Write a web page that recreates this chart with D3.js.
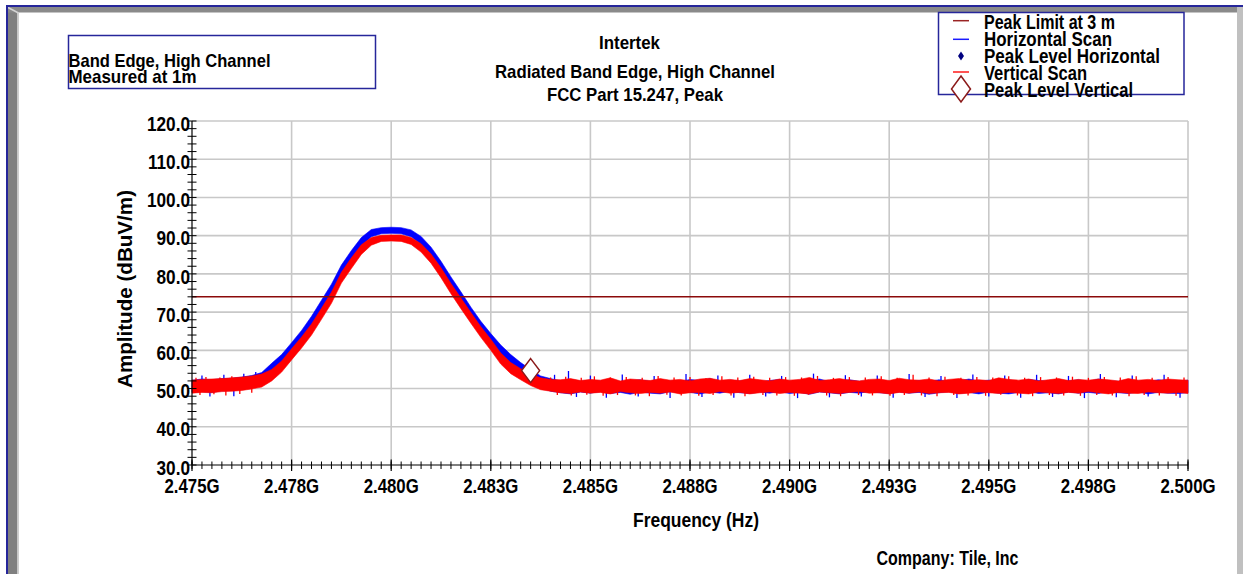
<!DOCTYPE html>
<html>
<head>
<meta charset="utf-8">
<script src="https://cdn.jsdelivr.net/npm/d3@7"></script>
<style>
  html, body { margin: 0; padding: 0; background: #fff; }
  svg { display: block; }
  text { font-family: "Liberation Sans", Arial, sans-serif; font-weight: bold; fill: #000; }
</style>
</head>
<body>
<svg id="chart" width="1243" height="574"></svg>
<script>
// ---- Axis definitions (frequency in MHz, amplitude in dBuV/m) ----
const freqMajorTicks = [2475, 2477.5, 2480, 2482.5, 2485, 2487.5, 2490, 2492.5, 2495, 2497.5, 2500];
const freqMajorLabels = ["2.475G", "2.478G", "2.480G", "2.483G", "2.485G", "2.488G",
                         "2.490G", "2.493G", "2.495G", "2.498G", "2.500G"];
const ampTicks = [30, 40, 50, 60, 70, 80, 90, 100, 110, 120];

// ---- Limit and peak marker ----
const peakLimitLevel = 74.0;
const peakVerticalFreq = 2483.5;
const peakVerticalLevel = 54.7;

// ---- Sweep: start / step in MHz, traces stored as min / max envelope per bin ----
const sweepStartMHz = 2475;
const sweepStepMHz = 0.25;

const horizontalLow = [
  49.0, 49.2, 49.0, 49.4, 49.5, 49.8, 50.3, 51.0,
  53.6, 56.1, 59.3, 62.5, 66.2, 70.4, 74.6, 79.7,
  83.6, 87.2, 89.7, 90.5, 90.6, 90.5, 89.7, 87.7,
  84.6, 80.8, 76.6, 72.7, 68.7, 65.0, 61.7, 58.7,
  56.1, 53.9, 52.0, 50.2, 49.3,
  48.9, 48.6, 49.1, 48.8, 49.2, 48.7, 49.0, 48.5,
  49.1, 48.8, 48.6, 49.2, 48.9, 49.0, 48.6, 49.1,
  48.8, 49.3, 48.9, 48.7, 49.1, 48.8, 49.2, 48.7,
  49.0, 48.5, 49.1, 48.9, 48.6, 49.0, 48.8, 49.2,
  48.9, 48.7, 49.1, 48.8, 49.0, 48.5, 48.9, 49.2,
  48.7, 49.0, 48.6, 49.1, 48.8, 48.6, 49.0, 49.2,
  48.7, 48.9, 48.6, 49.1, 48.8, 49.0, 48.7, 49.2,
  48.9, 48.7, 49.1, 48.6, 49.0, 48.8, 48.7, 48.9
];
const horizontalHigh = [
  52.2, 52.5, 52.3, 52.6, 52.7, 53.0, 53.4, 54.2,
  56.6, 58.9, 62.0, 65.2, 68.9, 73.1, 77.3, 82.3,
  86.1, 89.5, 91.6, 92.1, 92.2, 92.1, 91.5, 89.8,
  87.0, 83.3, 79.2, 75.3, 71.3, 67.6, 64.4, 61.4,
  58.9, 56.8, 55.0, 53.3, 52.6,
  52.0, 52.4, 51.9, 52.2, 52.0, 52.5, 51.8, 52.1,
  52.3, 51.9, 52.2, 52.0, 51.8, 52.4, 52.1, 52.6,
  51.9, 52.2, 52.0, 52.3, 51.8, 52.1, 52.4, 51.9,
  52.2, 52.0, 52.5, 51.8, 52.1, 52.3, 51.9, 52.0,
  52.2, 51.8, 52.4, 52.0, 52.1, 51.9, 52.3, 51.8,
  52.0, 52.5, 51.9, 52.2, 52.0, 52.3, 51.8, 52.4,
  52.1, 51.9, 52.2, 52.0, 52.3, 51.8, 52.5, 52.0,
  51.9, 52.2, 52.0, 51.8, 52.3, 52.1, 51.9, 52.2
];
const verticalLow = [
  48.8, 49.0, 48.9, 49.2, 49.3, 49.5, 49.9, 50.4,
  52.0, 54.3, 57.5, 60.6, 64.0, 68.1, 72.3, 77.6,
  81.4, 85.1, 87.5, 88.5, 88.6, 88.5, 87.7, 85.7,
  82.8, 79.0, 74.8, 70.9, 67.1, 63.4, 60.0, 56.4,
  53.9, 52.3, 50.8, 49.7, 49.3,
  48.9, 48.7, 49.1, 48.8, 49.0, 48.6, 49.2, 48.9,
  48.7, 49.0, 48.8, 49.1, 48.6, 48.9, 49.0, 48.7,
  49.2, 48.8, 49.0, 48.6, 48.9, 49.1, 48.7, 49.0,
  48.8, 48.6, 49.1, 48.9, 48.7, 49.0, 49.2, 48.8,
  48.9, 48.6, 49.0, 48.8, 49.1, 48.7, 48.9, 49.0,
  48.6, 48.8, 49.1, 48.9, 48.7, 49.0, 48.8, 48.6,
  49.1, 48.9, 48.7, 49.0, 48.8, 49.2, 48.9, 48.6,
  49.0, 48.8, 48.7, 49.1, 48.9, 48.8, 49.0, 48.7
];
const verticalHigh = [
  52.2, 52.4, 52.5, 52.6, 52.8, 53.0, 53.3, 53.8,
  55.0, 57.2, 60.4, 63.5, 66.9, 71.0, 75.2, 80.4,
  84.2, 87.6, 89.5, 90.1, 90.2, 90.2, 89.5, 87.9,
  85.2, 81.6, 77.5, 73.7, 69.9, 66.2, 62.9, 59.3,
  56.8, 55.2, 53.8, 52.8, 52.4,
  52.3, 52.6, 52.1, 52.4, 52.2, 52.8, 52.0, 52.5,
  52.3, 52.1, 52.6, 52.2, 52.4, 52.0, 52.5, 52.7,
  52.2, 52.4, 52.1, 52.6, 52.3, 52.0, 52.5, 52.2,
  52.4, 52.9, 52.1, 52.3, 52.6, 52.2, 52.0, 52.4,
  52.5, 52.1, 52.7, 52.3, 52.2, 52.5, 52.0, 52.4,
  52.6, 52.2, 52.3, 52.1, 52.8, 52.4, 52.2, 52.5,
  52.0, 52.3, 52.6, 52.1, 52.4, 52.2, 52.5, 52.3,
  52.0, 52.6, 52.2, 52.4, 52.1, 52.5, 52.3, 52.2
];

// Isolated noise excursions on the noise floor (MHz, dBuV/m)
const horizontalSpikeFreqs = [
  2475.25, 2475.45, 2475.8, 2476.05, 2476.3, 2476.6,
  2484.1, 2484.45, 2484.65, 2485.0, 2485.4, 2485.8, 2486.2, 2486.6, 2487.0, 2487.4,
  2487.8, 2488.2, 2488.6, 2489.0, 2489.4, 2489.8, 2490.2, 2490.6, 2491.0, 2491.4,
  2491.8, 2492.2, 2492.6, 2493.0, 2493.4, 2493.8, 2494.2, 2494.6, 2495.0, 2495.4,
  2495.8, 2496.2, 2496.6, 2497.0, 2497.4, 2497.8, 2498.2, 2498.6, 2499.0, 2499.4, 2499.8
];
const horizontalSpikeLevels = [
  53.4, 47.9, 53.6, 48.0, 53.9, 54.3,
  53.6, 54.6, 47.8, 53.4, 47.6, 53.7, 47.9, 53.3, 47.5, 53.8,
  47.8, 53.4, 47.6, 53.6, 47.9, 53.3, 47.5, 53.9, 47.7, 53.5,
  47.9, 53.4, 47.6, 53.8, 47.8, 53.3, 47.5, 53.7, 47.9, 53.4,
  47.6, 53.6, 47.8, 53.3, 47.5, 53.8, 47.7, 53.4, 47.9, 53.6, 47.6
];
const verticalSpikeFreqs = [
  2475.1, 2475.2, 2475.35, 2475.55, 2475.7, 2475.85, 2476.0, 2476.2, 2476.35, 2476.5, 2476.65,
  2484.0, 2484.17, 2484.38, 2484.52, 2484.77, 2484.91, 2485.1, 2485.32, 2485.5, 2485.68,
  2485.9, 2486.13, 2486.3, 2486.48, 2486.7, 2486.92, 2487.1, 2487.28, 2487.5, 2487.72,
  2487.9, 2488.08, 2488.3, 2488.53, 2488.7, 2488.88, 2489.1, 2489.33, 2489.5, 2489.68,
  2489.9, 2490.12, 2490.3, 2490.47, 2490.7, 2490.93, 2491.1, 2491.28, 2491.5, 2491.73,
  2491.9, 2492.08, 2492.3, 2492.52, 2492.7, 2492.88, 2493.1, 2493.31, 2493.5, 2493.7,
  2493.9, 2494.12, 2494.3, 2494.48, 2494.7, 2494.92, 2495.1, 2495.3, 2495.5, 2495.72,
  2495.9, 2496.1, 2496.3, 2496.52, 2496.7, 2496.88, 2497.1, 2497.3, 2497.5, 2497.71,
  2497.9, 2498.1, 2498.3, 2498.52, 2498.7, 2498.9, 2499.1, 2499.28, 2499.5, 2499.7, 2499.9
];
const verticalSpikeLevels = [
  52.8, 48.3, 53.0, 48.5, 52.9, 48.2, 53.2, 48.6, 53.1, 48.9, 53.5,
  52.9, 48.3, 53.1, 48.2, 52.8, 48.4, 53.2, 48.1, 52.9, 48.3,
  53.0, 48.2, 52.8, 48.0, 53.3, 48.4, 52.9, 48.2, 53.0, 48.1,
  52.7, 48.3, 53.2, 48.2, 52.9, 48.0, 53.1, 48.3, 52.8, 48.2,
  53.0, 48.1, 52.9, 48.4, 53.3, 48.2, 52.8, 48.0, 53.0, 48.3,
  52.9, 48.2, 53.2, 48.1, 52.8, 48.3, 53.6, 48.2, 52.9, 48.0,
  53.1, 48.3, 52.8, 48.2, 53.0, 48.1, 52.9, 48.4, 53.2, 48.2,
  52.8, 48.0, 53.0, 48.3, 52.9, 48.2, 53.1, 48.1, 52.8, 48.3,
  53.0, 48.2, 52.9, 48.0, 53.2, 48.3, 52.8, 48.2, 53.0, 48.1, 52.9
];

// ---- Drawing ----
const W = 1243, H = 574;
const svg = d3.select("#chart");
const x = d3.scaleLinear().domain([2475, 2500]).range([192, 1188]);
const y = d3.scaleLinear().domain([30, 120]).range([465, 121]);

const NAVY = "#26269a";
const GRID = "#c8c8c8";
const BLUE = "#0000ff";
const RED = "#ff0000";

function fitWidth(sel, w) {
  sel.attr("textLength", w).attr("lengthAdjust", "spacingAndGlyphs");
}
function squeeze(sel, k) {
  sel.each(function () {
    const w = this.getComputedTextLength();
    d3.select(this).attr("textLength", w * k).attr("lengthAdjust", "spacingAndGlyphs");
  });
}

// window frame
svg.append("rect").attr("width", W).attr("height", H).attr("fill", "#fff");
svg.append("rect").attr("x", 8).attr("y", 7).attr("width", 9.5).attr("height", H).attr("fill", "#808080");
svg.append("rect").attr("x", 17.5).attr("y", 12.5).attr("width", 1.5).attr("height", H).attr("fill", "#cfcfcf");
svg.append("rect").attr("x", 8).attr("y", 7).attr("width", 1230).attr("height", 5.5).attr("fill", "#8a8a8a");
svg.append("line").attr("x1", 8).attr("y1", 7.5).attr("x2", 18.5).attr("y2", 13)
  .attr("stroke", "#d4d4d4").attr("stroke-width", 1.5);
svg.append("rect").attr("x", 1237).attr("y", 7).attr("width", 6).attr("height", H).attr("fill", "#c0c0c0");
svg.append("rect").attr("x", 6).attr("y", 5).attr("width", W).attr("height", 2).attr("fill", NAVY);
svg.append("rect").attr("x", 6).attr("y", 5).attr("width", 2).attr("height", H).attr("fill", NAVY);

// grid
const grid = svg.append("g");
grid.selectAll("line.h").data(ampTicks.filter(d => d > 30)).join("line")
  .attr("x1", x(2475)).attr("x2", x(2500))
  .attr("y1", d => y(d)).attr("y2", d => y(d))
  .attr("stroke", GRID).attr("stroke-width", 1.6);
grid.selectAll("line.v").data(freqMajorTicks.slice(1)).join("line")
  .attr("x1", d => x(d)).attr("x2", d => x(d))
  .attr("y1", y(120)).attr("y2", y(30))
  .attr("stroke", GRID).attr("stroke-width", 1.6);

// traces: horizontal first, vertical on top
const bins = horizontalLow.map((_, i) => i);
const fOf = i => sweepStartMHz + i * sweepStepMHz;
function band(lo, hi) {
  return d3.area()
    .x(i => x(fOf(i)))
    .y0(i => y(lo[i]))
    .y1(i => y(hi[i]))(bins);
}
function spikes(g, freqs, levels, color) {
  g.selectAll(null).data(freqs).join("line")
    .attr("x1", d => x(d)).attr("x2", d => x(d))
    .attr("y1", y(50.5)).attr("y2", (d, i) => y(levels[i]))
    .attr("stroke", color).attr("stroke-width", 1.3);
}
const traces = svg.append("g");
spikes(traces.append("g"), horizontalSpikeFreqs, horizontalSpikeLevels, BLUE);
traces.append("path").attr("d", band(horizontalLow, horizontalHigh))
  .attr("fill", BLUE).attr("stroke", BLUE).attr("stroke-width", 0.6);
traces.append("path").attr("d", band(verticalLow, verticalHigh))
  .attr("fill", RED).attr("stroke", RED).attr("stroke-width", 0.6);
spikes(traces.append("g"), verticalSpikeFreqs, verticalSpikeLevels, RED);

// limit line
svg.append("line")
  .attr("x1", x(2475)).attr("x2", x(2500))
  .attr("y1", y(peakLimitLevel)).attr("y2", y(peakLimitLevel))
  .attr("stroke", "#8b0a0a").attr("stroke-width", 1.5);

// peak marker (vertical)
function diamond(cx, cy, w, h) {
  return `M${cx},${cy - h / 2}L${cx + w / 2},${cy}L${cx},${cy + h / 2}L${cx - w / 2},${cy}Z`;
}
svg.append("path").attr("d", diamond(x(peakVerticalFreq), y(peakVerticalLevel), 18, 24))
  .attr("fill", "#fff").attr("stroke", "#8b1a1a").attr("stroke-width", 1.5);

// y axis
const yAxisG = svg.append("g").attr("transform", `translate(${x(2475)},0)`);
yAxisG.append("line").attr("x1", 0).attr("x2", 0).attr("y1", y(120)).attr("y2", y(30))
  .attr("stroke", "#000").attr("stroke-width", 1.2);
yAxisG.selectAll("line.minor").data(d3.range(30, 120.001, 2)).join("line")
  .attr("x1", -4.5).attr("x2", 4.5).attr("y1", d => y(d)).attr("y2", d => y(d))
  .attr("stroke", "#000").attr("stroke-width", 1);
yAxisG.selectAll("text").data(ampTicks).join("text")
  .attr("x", -2).attr("y", d => y(d) + 9.7)
  .attr("text-anchor", "end").attr("font-size", 20)
  .text(d3.format(".1f"))
  .call(squeeze, 0.86);

// x axis
const xAxisG = svg.append("g").attr("transform", `translate(0,${y(30)})`);
xAxisG.append("line").attr("x1", x(2475)).attr("x2", x(2500)).attr("y1", 0).attr("y2", 0)
  .attr("stroke", "#000").attr("stroke-width", 1.2);
xAxisG.selectAll("line.minor").data(d3.range(2475, 2500.001, 0.25)).join("line")
  .attr("x1", d => x(d)).attr("x2", d => x(d)).attr("y1", -3.5).attr("y2", 4)
  .attr("stroke", "#000").attr("stroke-width", 1);
xAxisG.selectAll("line.major").data(freqMajorTicks).join("line")
  .attr("x1", d => x(d)).attr("x2", d => x(d)).attr("y1", -5.5).attr("y2", 6)
  .attr("stroke", "#000").attr("stroke-width", 1.2);
xAxisG.selectAll("text").data(freqMajorTicks).join("text")
  .attr("x", d => x(d)).attr("y", 28)
  .attr("text-anchor", "middle").attr("font-size", 21)
  .text((d, i) => freqMajorLabels[i])
  .call(squeeze, 0.8);

// axis titles
svg.append("text").attr("transform", "translate(132,289) rotate(-90)")
  .attr("text-anchor", "middle").attr("font-size", 20)
  .text("Amplitude (dBuV/m)").call(fitWidth, 198);
svg.append("text").attr("x", 696).attr("y", 527)
  .attr("text-anchor", "middle").attr("font-size", 20)
  .text("Frequency (Hz)").call(fitWidth, 126);

// titles
svg.append("text").attr("x", 629.5).attr("y", 49).attr("text-anchor", "middle")
  .attr("font-size", 19).text("Intertek").call(fitWidth, 61);
svg.append("text").attr("x", 635).attr("y", 78).attr("text-anchor", "middle")
  .attr("font-size", 19).text("Radiated Band Edge, High Channel").call(fitWidth, 280);
svg.append("text").attr("x", 635).attr("y", 101).attr("text-anchor", "middle")
  .attr("font-size", 19).text("FCC Part 15.247, Peak").call(fitWidth, 176);

// note box
svg.append("rect").attr("x", 68.5).attr("y", 35.5).attr("width", 307).attr("height", 53)
  .attr("fill", "none").attr("stroke", NAVY).attr("stroke-width", 1.5);
svg.append("text").attr("x", 68.5).attr("y", 66.5).attr("font-size", 18.5)
  .text("Band Edge, High Channel").call(fitWidth, 202);
svg.append("text").attr("x", 68.5).attr("y", 82.5).attr("font-size", 18.5)
  .text("Measured at 1m").call(fitWidth, 128);

// company
svg.append("text").attr("x", 947.5).attr("y", 565).attr("text-anchor", "middle")
  .attr("font-size", 20).text("Company: Tile, Inc").call(fitWidth, 142);

// legend
const legendItems = [
  { label: "Peak Limit at 3 m", kind: "line", color: "#9a2424", sy: 20.7, by: 29.3, w: 131 },
  { label: "Horizontal Scan", kind: "line", color: "#1a1aff", sy: 39.3, by: 46, w: 128 },
  { label: "Peak Level Horizontal", kind: "dot", color: "#000080", sy: 56, by: 63.3, w: 176 },
  { label: "Vertical Scan", kind: "line", color: "#ff1a1a", sy: 72, by: 80, w: 103 },
  { label: "Peak Level Vertical", kind: "diamond", color: "#8b1a1a", sy: 89, by: 96.7, w: 149 }
];
const lg = svg.append("g");
lg.append("rect").attr("x", 938.5).attr("y", 12.5).attr("width", 245.5).attr("height", 82)
  .attr("fill", "#fff").attr("stroke", NAVY).attr("stroke-width", 1.5);
legendItems.forEach(it => {
  if (it.kind === "line") {
    lg.append("line").attr("x1", 953).attr("x2", 969).attr("y1", it.sy).attr("y2", it.sy)
      .attr("stroke", it.color).attr("stroke-width", 1.5);
  } else if (it.kind === "dot") {
    lg.append("path").attr("d", diamond(961, it.sy, 6, 9)).attr("fill", it.color);
  } else {
    lg.append("path").attr("d", diamond(961, it.sy, 19, 26))
      .attr("fill", "#fff").attr("stroke", it.color).attr("stroke-width", 1.5);
  }
  lg.append("text").attr("x", 984).attr("y", it.by).attr("font-size", 20)
    .text(it.label).call(fitWidth, it.w);
});
</script>
</body>
</html>
